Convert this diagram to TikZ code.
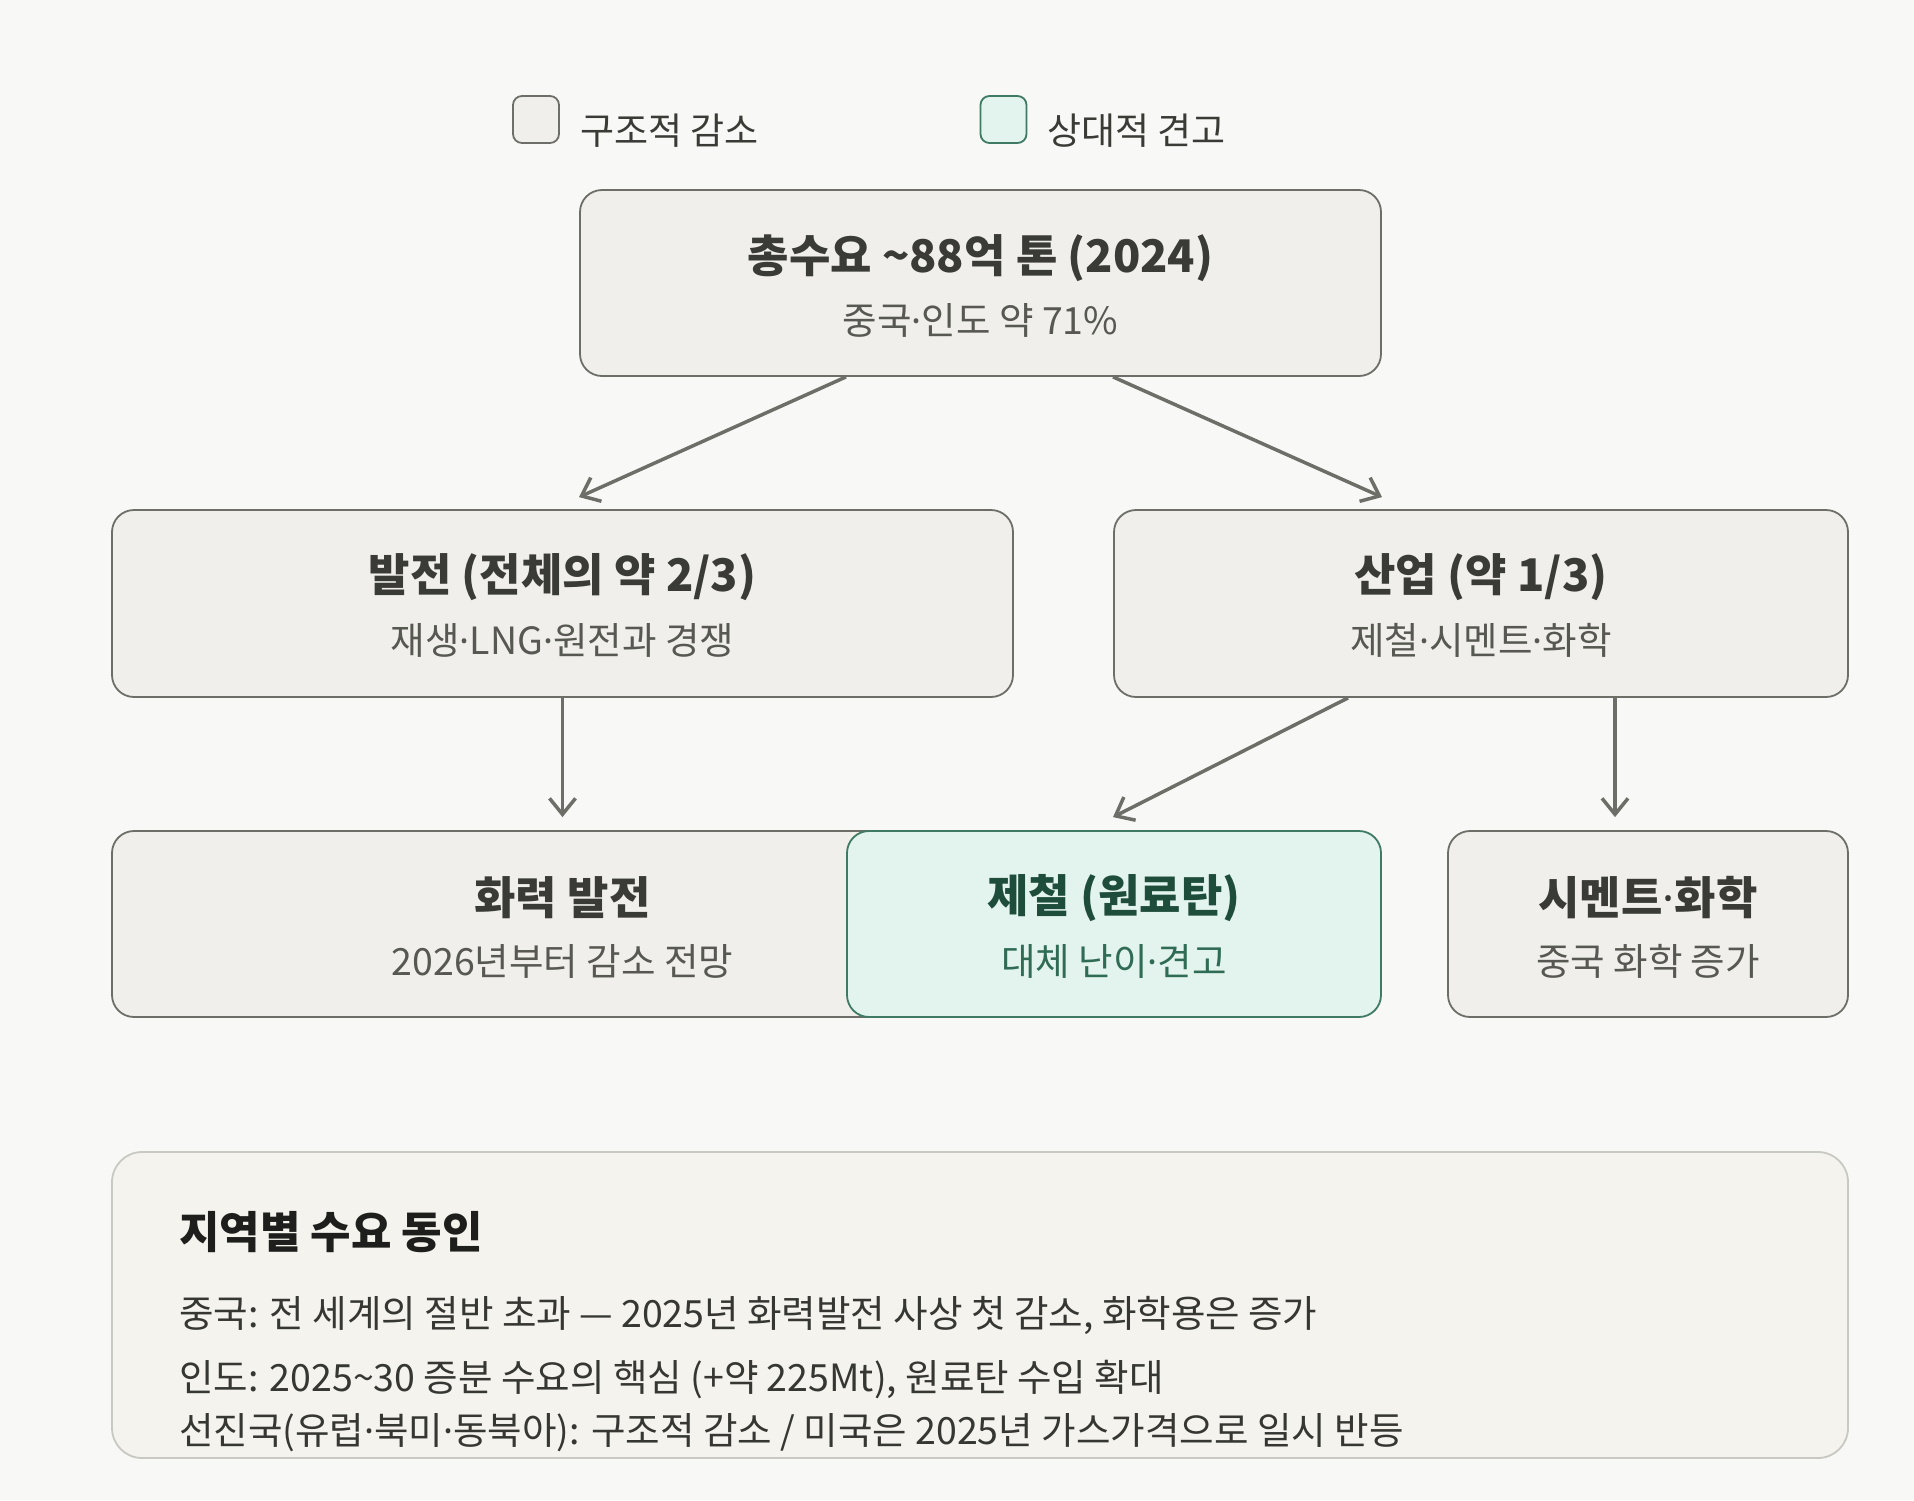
\documentclass[tikz,border=0pt]{standalone}
\usepackage{fontspec}
\setmainfont{Noto Sans CJK KR}
\newfontfamily\latinf{Noto Sans}
\newcommand\md{{\latinf ·}}
\usetikzlibrary{arrows.meta,calc}
\definecolor{bg}{HTML}{F8F8F6}
\definecolor{greyfill}{HTML}{F0EFEB}
\definecolor{greyline}{HTML}{6E6E69}
\definecolor{greenfill}{HTML}{E3F4EE}
\definecolor{greenline}{HTML}{3F7A64}
\definecolor{titlecol}{HTML}{3A3A36}
\definecolor{subcol}{HTML}{585853}
\definecolor{gtitle}{HTML}{1F4D3C}
\definecolor{gsub}{HTML}{2F6B55}
\definecolor{notefill}{HTML}{F4F3EE}
\definecolor{noteline}{HTML}{C9C9C3}
\definecolor{notetitle}{HTML}{1E1E1C}
\definecolor{notetext}{HTML}{363632}
\begin{document}
\begin{tikzpicture}[x=1pt,y=-1pt,
  greybox/.style={draw=greyline,fill=greyfill,line width=1.8pt,rounded corners=22pt,inner sep=0pt},
  greenbox/.style={draw=greenline,fill=greenfill,line width=1.8pt,rounded corners=22pt,inner sep=0pt},
  ttl/.style={font=\fontsize{45}{52}\selectfont\bfseries,text=titlecol,inner sep=0pt},
  sub/.style={font=\fontsize{37.5}{44}\selectfont,text=subcol,inner sep=0pt},
  legtxt/.style={font=\fontsize{37}{44}\selectfont,text=titlecol,inner sep=0pt,anchor=west},
  notetxt/.style={font=\fontsize{37.5}{44}\selectfont,text=notetext,inner sep=0pt,anchor=west},
  arr/.style={draw=greyline,line width=3.5pt,-{Straight Barb[length=16pt,width=26pt,line width=3.5pt]}}
]
\fill[bg] (0,0) rectangle (1914,1500);
\useasboundingbox (0,0) rectangle (1914,1500);

% legend
\node[greybox,rounded corners=9pt,minimum width=46pt,minimum height=47pt] (leg1) at (536,119.5) {};
\node[legtxt] (leg1t) at (580,131) {구조적 감소};
\node[greenbox,rounded corners=9pt,minimum width=46pt,minimum height=47pt] (leg2) at (1003.5,119.5) {};
\node[legtxt] (leg2t) at (1047,131) {상대적 견고};

% top
\node[greybox,minimum width=801pt,minimum height=186pt] (top) at (980.5,283) {};
\node[ttl] (topT) at (980.5,258) {총수요 \textasciitilde88억 톤 (2024)};
\node[sub] (topS) at (980.5,320) {중국\md 인도 약 71\%};

% level 2
\node[greybox,minimum width=901pt,minimum height=187pt] (pw) at (562.5,603.5) {};
\node[ttl] (pwT) at (562.5,577) {발전 (전체의 약 2/3)};
\node[sub] (pwS) at (562.5,640) {재생\md LNG\md 원전과 경쟁};

\node[greybox,minimum width=734pt,minimum height=187pt] (ind) at (1481,603.5) {};
\node[ttl] (indT) at (1481,577) {산업 (약 1/3)};
\node[sub] (indS) at (1481,640) {제철\md 시멘트\md 화학};

% level 3
\node[greybox,minimum width=901pt,minimum height=186pt] (th) at (562.5,924) {};
\node[greenbox,minimum width=534pt,minimum height=186pt] (st) at (1114,924) {};
\node[ttl] (thT) at (562.5,898) {화력 발전};
\node[sub] (thS) at (562.5,961) {2026년부터 감소 전망};
\node[ttl,text=gtitle] (stT) at (1114,898) {제철 (원료탄)};
\node[sub,text=gsub] (stS) at (1114,961) {대체 난이\md 견고};

\node[greybox,minimum width=400pt,minimum height=186pt] (ce) at (1648,924) {};
\node[ttl] (ceT) at (1648,898) {시멘트\md 화학};
\node[sub] (ceS) at (1648,961) {중국 화학 증가};

% arrows
\draw[arr] ([xshift=-134.5pt]top.south) -- ([xshift=16.5pt,yshift=12pt]pw.north);
\draw[arr] ([xshift=132.5pt]top.south) -- ([xshift=-99pt,yshift=12pt]ind.north);
\draw[arr] (pw.south) -- ([yshift=13pt]th.north);
\draw[arr] ([xshift=-133pt]ind.south) -- ([xshift=-1pt,yshift=13pt]st.north);
\draw[arr] ([xshift=134pt]ind.south) -- ([xshift=-33pt,yshift=13pt]ce.north);

% note box
\node[draw=noteline,fill=notefill,line width=1.8pt,rounded corners=30pt,minimum width=1736pt,minimum height=306pt,inner sep=0pt] (note) at (980,1305) {};
\node[font=\fontsize{44}{50}\selectfont\bfseries,text=notetitle,inner sep=0pt,anchor=west] (noteT) at (179,1232) {지역별 수요 동인};
\node[notetxt] (n1) at (179,1315) {중국: 전 세계의 절반 초과 — 2025년 화력발전 사상 첫 감소, 화학용은 증가};
\node[notetxt] (n2) at (179,1380) {인도: 2025\textasciitilde30 증분 수요의 핵심 (+약 225Mt), 원료탄 수입 확대};
\node[notetxt] (n3) at (179,1433) {선진국(유럽\md 북미\md 동북아): 구조적 감소 / 미국은 2025년 가스가격으로 일시 반등};
\end{tikzpicture}
\end{document}
